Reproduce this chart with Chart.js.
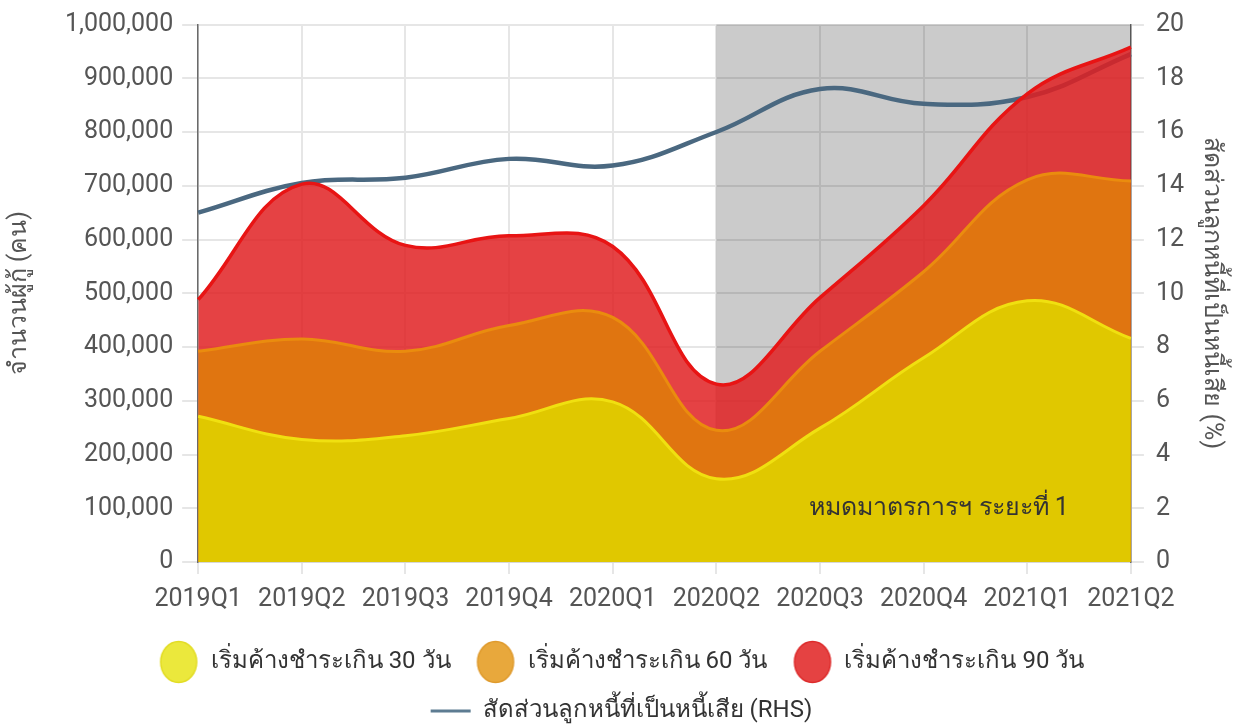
<!DOCTYPE html>
<html>
<head>
<meta charset="utf-8">
<script src="https://cdn.jsdelivr.net/npm/chart.js@4"></script>
<style>
  html, body { margin: 0; padding: 0; background: #fff; }
  #wrap { width: 1239px; height: 727px; position: relative; }
</style>
</head>
<body>
<div id="wrap"><canvas id="nplChart"></canvas></div>
<script>
// quarters on the x axis
const quarters = ['2019Q1', '2019Q2', '2019Q3', '2019Q4', '2020Q1', '2020Q2', '2020Q3', '2020Q4', '2021Q1', '2021Q2'];

// borrowers overdue (persons)
const overdue30 = [271000, 228000, 235000, 267000, 298000, 155000, 249000, 380000, 486000, 416000];
const overdue60 = [392000, 415000, 392000, 440000, 455000, 245000, 392000, 540000, 711000, 709000];
const overdue90 = [488000, 703000, 589000, 607000, 587000, 331000, 492000, 663000, 871000, 958000];

// NPL ratio (%) on the right axis
const nplRatio = [13.0, 14.1, 14.3, 15.0, 14.75, 16.0, 17.6, 17.05, 17.3, 18.9];

const seriesNames = ['เริ่มค้างชำระเกิน 30 วัน', 'เริ่มค้างชำระเกิน 60 วัน', 'เริ่มค้างชำระเกิน 90 วัน', 'สัดส่วนลูกหนี้ที่เป็นหนี้เสีย (RHS)'];
const leftTitle = 'จำนวนผู้กู้ (คน)';
const rightTitle = 'สัดส่วนลูกหนี้ที่เป็นหนี้เสีย (%)';
const shadeFrom = '2020Q2';
const shadeLabel = 'หมดมาตรการฯ ระยะที่ 1';

const FONT = "Roboto, 'Noto Sans', sans-serif";
const tickColor = '#555';

// legend dots are slightly taller than wide in the original
function makeDot(fill, stroke) {
    const c = document.createElement('canvas');
    c.width = 40; c.height = 44;
    const g = c.getContext('2d');
    g.beginPath();
    g.ellipse(20, 22, 18, 20.5, 0, 0, Math.PI * 2);
    g.fillStyle = fill;
    g.fill();
    g.lineWidth = 1.5;
    g.strokeStyle = stroke;
    g.stroke();
    return c;
}

const legendDots = [
    makeDot('#ebe83c', '#e2dc22'),
    makeDot('#e8a83c', '#df9a2c'),
    makeDot('#e54242', '#dd2a2a')
];

// grey box for the period after the relief measures ended
const shadePlugin = {
    id: 'shade',
    beforeDatasetsDraw(chart) {
        const {ctx, chartArea, scales} = chart;
        const x0 = scales.x.getPixelForValue(quarters.indexOf(shadeFrom));
        ctx.save();
        ctx.globalCompositeOperation = 'multiply';
        ctx.fillStyle = '#cbcbcb';
        ctx.fillRect(x0, chartArea.top, chartArea.right - x0, chartArea.bottom - chartArea.top);
        ctx.restore();
    },
    afterDatasetsDraw(chart) {
        const {ctx, scales} = chart;
        const x = scales.x.getPixelForValue(7.15);
        const y = scales.y1.getPixelForValue(2);
        ctx.save();
        ctx.font = '25px ' + FONT;
        ctx.fillStyle = '#333';
        ctx.textAlign = 'center';
        ctx.textBaseline = 'middle';
        ctx.fillText(shadeLabel, x, y);
        ctx.restore();
    }
};

const ctx = document.getElementById('nplChart').getContext('2d');

new Chart(ctx, {
    type: 'line',
    data: {
        labels: quarters,
        datasets: [
            {
                label: seriesNames[0],
                data: overdue30,
                yAxisID: 'y',
                backgroundColor: '#e0c800',
                borderColor: '#f0e010',
                borderWidth: 3,
                fill: 'origin',
                tension: 0.4,
                pointRadius: 0
            },
            {
                label: seriesNames[1],
                data: overdue60,
                yAxisID: 'y',
                backgroundColor: '#e07510',
                borderColor: '#ea8c0e',
                borderWidth: 3,
                fill: 'origin',
                tension: 0.4,
                pointRadius: 0
            },
            {
                label: seriesNames[2],
                data: overdue90,
                yAxisID: 'y',
                backgroundColor: 'rgba(224, 30, 32, 0.84)',
                borderColor: '#e81414',
                borderWidth: 3.5,
                fill: 'origin',
                tension: 0.4,
                pointRadius: 0
            },
            {
                label: seriesNames[3],
                data: nplRatio,
                yAxisID: 'y1',
                borderColor: '#4a6880',
                borderWidth: 4.5,
                fill: false,
                tension: 0.4,
                pointRadius: 0
            }
        ]
    },
    options: {
        responsive: true,
        maintainAspectRatio: false,
        animation: false,
        layout: {
            padding: { left: 5, right: 1, top: 6, bottom: -6 }
        },
        plugins: {
            tooltip: { enabled: false },
            legend: {
                position: 'bottom',
                labels: {
                    usePointStyle: true,
                    pointStyleWidth: 40,
                    padding: 25,
                    color: '#333',
                    font: { family: FONT, size: 24 },
                    generateLabels: function (chart) {
                        return seriesNames.map((name, i) => ({
                            text: name,
                            datasetIndex: i,
                            hidden: false,
                            fontColor: '#333',
                            fillStyle: i < 3 ? '#fff' : '#5d7c92',
                            strokeStyle: i < 3 ? '#fff' : '#5d7c92',
                            lineWidth: 3,
                            pointStyle: i < 3 ? legendDots[i] : 'line'
                        }));
                    }
                }
            }
        },
        scales: {
            x: {
                offset: false,
                grid: {
                    color: '#e6e6e6',
                    lineWidth: 2,
                    tickLength: 12
                },
                border: { color: '#c8c8c8', width: 1.5 },
                ticks: {
                    color: tickColor,
                    font: { family: FONT, size: 25, lineHeight: 0.76 },
                    padding: 16,
                    maxRotation: 0
                }
            },
            y: {
                position: 'left',
                min: 0,
                max: 1000000,
                grid: {
                    color: '#e6e6e6',
                    lineWidth: 2,
                    tickLength: 16
                },
                border: { color: '#6a6a6a', width: 1.5 },
                ticks: {
                    stepSize: 100000,
                    color: tickColor,
                    font: { family: FONT, size: 25, lineHeight: 1.0 },
                    padding: 9,
                    callback: v => v.toLocaleString('en-US')
                },
                title: {
                    display: true,
                    text: leftTitle,
                    color: tickColor,
                    font: { family: FONT, size: 25 },
                    padding: { top: 0, bottom: 21 }
                }
            },
            y1: {
                position: 'right',
                min: 0,
                max: 20,
                grid: {
                    drawOnChartArea: false,
                    color: '#e6e6e6',
                    lineWidth: 2,
                    tickLength: 13
                },
                border: { color: '#6a6a6a', width: 1.5 },
                ticks: {
                    stepSize: 2,
                    color: tickColor,
                    font: { family: FONT, size: 25, lineHeight: 1.0 },
                    padding: 12
                },
                title: {
                    display: true,
                    text: rightTitle,
                    color: tickColor,
                    font: { family: FONT, size: 25 },
                    padding: { top: 12, bottom: 0 }
                }
            }
        }
    },
    plugins: [shadePlugin]
});
</script>
</body>
</html>
